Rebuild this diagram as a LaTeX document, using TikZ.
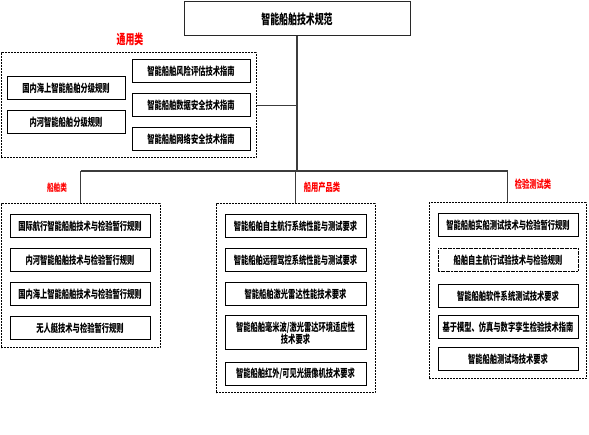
\documentclass[tikz,border=0pt]{standalone}
\usepackage{fontspec}
\usepackage{xcolor}
\usepackage{tikz}
\newfontfamily\cjk{Noto Sans CJK SC}[FakeStretch=0.66]
\definecolor{labelred}{RGB}{255, 0, 0}
\definecolor{linegray}{RGB}{60, 60, 60}
\definecolor{framegray}{RGB}{40, 40, 40}

\begin{document}
\begin{tikzpicture}[x=1pt, y=-1pt,
  item/.style={draw=black, line width=1pt, fill=white, minimum width=140pt, minimum height=23pt, inner sep=1pt, align=center, font=\cjk\bfseries\fontsize{11}{12}\selectfont},
  group/.style={draw=black, line width=1pt, dash pattern=on 2pt off 1pt},
  catlabel/.style={text=labelred, font=\cjk\bfseries\fontsize{11}{12}\selectfont},
  link/.style={draw=linegray, line width=1.2pt}]
\useasboundingbox (0,0) rectangle (589,435);

% Top title
\node[draw=framegray, line width=1pt, minimum width=226pt, minimum height=34pt, font=\cjk\bfseries\fontsize{13.5}{15}\selectfont] (title) at (297,19) {智能船舶技术规范};

% Group frames
\node[group, minimum width=255pt, minimum height=105pt] (gen) at (128.5,105.5) {};
\node[group, minimum width=159pt, minimum height=144pt] (ship) at (80.5,276) {};
\node[group, minimum width=159pt, minimum height=189pt] (prod) at (295.5,298.5) {};
\node[group, minimum width=157pt, minimum height=176pt] (test) at (507.5,291) {};

% Category labels
\node[catlabel, font=\cjk\bfseries\fontsize{13.5}{15}\selectfont] (genlab) at (130,39) {通用类};
\node[catlabel, font=\cjk\bfseries\fontsize{10}{11}\selectfont] (shiplab) at (57,188) {船舶类};
\node[catlabel] (prodlab) at (322,187) {船用产品类};
\node[catlabel] (testlab) at (533,184) {检验测试类};

% General
\node[item, minimum width=118pt] (genA) at (66,88.5) {国内海上智能船舶分级规则};
\node[item, minimum width=118pt] (genB) at (66,122) {内河智能船舶分级规则};
\node[item, minimum width=118pt] (genC) at (191,71.5) {智能船舶风险评估技术指南};
\node[item, minimum width=118pt] (genD) at (191,105.5) {智能船舶数据安全技术指南};
\node[item, minimum width=118pt] (genE) at (191,139) {智能船舶网络安全技术指南};

% Ships
\node[item] (shipA) at (80,226) {国际航行智能船舶技术与检验暂行规则};
\node[item] (shipB) at (80,260.5) {内河智能船舶技术与检验暂行规则};
\node[item] (shipC) at (80,294.5) {国内海上智能船舶技术与检验暂行规则};
\node[item] (shipD) at (80,328) {无人艇技术与检验暂行规则};

% Ship products
\node[item, minimum width=141pt] (prodA) at (295.5,226) {智能船舶自主航行系统性能与测试要求};
\node[item, minimum width=141pt] (prodB) at (295.5,260.5) {智能船舶远程驾控系统性能与测试要求};
\node[item, minimum width=141pt] (prodC) at (295.5,294.5) {智能船舶激光雷达性能技术要求};
\node[item, minimum width=141pt, minimum height=34pt] (prodD) at (295.5,333) {智能船舶毫米波/激光雷达环境适应性\\技术要求};
\node[item, minimum width=141pt] (prodE) at (295.5,374) {智能船舶红外/可见光摄像机技术要求};

% Testing
\node[item] (testA) at (508,225.5) {智能船舶实船测试技术与检验暂行规则};
\node[item, dash pattern=on 2pt off 0.6pt] (testB) at (508,260) {船舶自主航行试验技术与检验规则};
\node[item] (testC) at (508,296) {智能船舶软件系统测试技术要求};
\node[item] (testD) at (508,327.5) {基于模型、仿真与数字孪生检验技术指南};
\node[item] (testE) at (508,359.5) {智能船舶测试场技术要求};

% Connectors
\coordinate (bus) at (0,171);
\draw[link] (title.south) -- (title.south |- bus);
\draw[link] (gen.east) -- (gen.east -| title.south);
\draw[link] (ship.north |- bus) -- (test.north |- bus);
\foreach \g in {ship,prod,test}
  \draw[link] (\g.north |- bus) -- (\g.north);
\end{tikzpicture}
\end{document}
